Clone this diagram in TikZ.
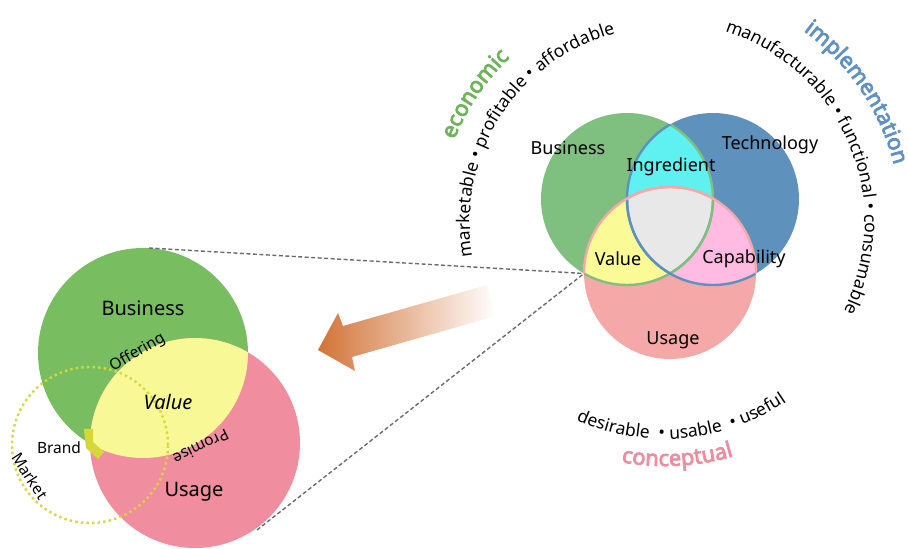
\documentclass[tikz,border=0pt]{standalone}
\usepackage{fontspec}
\setmainfont{Noto Sans}
\newfontfamily\arcbold{Noto Sans}[FakeBold=3.5]
\usetikzlibrary{decorations.text, calc}

\definecolor{bizgreen}{RGB}{127,191,127}
\definecolor{techblue}{RGB}{94,146,188}
\definecolor{usepink}{RGB}{245,168,168}
\definecolor{ingcyan}{RGB}{95,240,240}
\definecolor{valyellow}{RGB}{250,250,150}
\definecolor{cappink}{RGB}{255,187,225}
\definecolor{centergray}{RGB}{232,232,232}
\definecolor{lgreen}{RGB}{120,190,96}
\definecolor{lpink}{RGB}{240,142,160}
\definecolor{lyellow}{RGB}{248,248,150}
\definecolor{marketolive}{RGB}{215,215,55}
\definecolor{arroworange}{RGB}{210,115,55}
\definecolor{ecogreen}{RGB}{109,179,90}
\definecolor{implblue}{RGB}{95,145,195}
\definecolor{concpink}{RGB}{240,140,160}

\begin{document}
\begin{tikzpicture}[x=1pt, y=1pt,
    lbl/.style={font=\fontsize{18}{20}\selectfont, inner sep=0pt},
    biglbl/.style={font=\fontsize{20}{22}\selectfont, inner sep=0pt},
    smalllbl/.style={font=\fontsize{15.5}{17}\selectfont, inner sep=0pt},
    zoomline/.style={draw=black!58, line width=1.4pt, dash pattern=on 4pt off 2.5pt},
    marketdots/.style={draw=marketolive, line width=2.4pt, dash pattern=on 2.4pt off 3.2pt}]
    \useasboundingbox (0,0) rectangle (908,549);

    % Centres
    \coordinate (B) at (627,350);
    \coordinate (T) at (713,350);
    \coordinate (U) at (670,276);
    \coordinate (C) at (665,327);
    \coordinate (LB) at (143,196);
    \coordinate (LU) at (195,106);
    \coordinate (LM) at (90,104);

    % Right diagram
    \fill[bizgreen] (B) circle[radius=86];
    \fill[techblue] (T) circle[radius=86];
    \fill[usepink] (U) circle[radius=86];
    \begin{scope}
        \clip (T) circle[radius=86];
        \fill[cappink] (U) circle[radius=86];
    \end{scope}
    \begin{scope}
        \clip (B) circle[radius=86];
        \fill[ingcyan] (T) circle[radius=86];
        \fill[valyellow] (U) circle[radius=86];
        \clip (T) circle[radius=86];
        \fill[centergray] (U) circle[radius=86];
    \end{scope}
    \foreach \a/\b/\col in {B/T/bizgreen, B/U/bizgreen, T/B/techblue, T/U/techblue, U/B/usepink, U/T/usepink} {
        \begin{scope}
            \clip (\b) circle[radius=86];
            \draw[\col, line width=2.4pt] (\a) circle[radius=86];
        \end{scope}
    }

    % Labels
    \node[lbl] (business) at (568,401) {Business};
    \node[lbl] (technology) at (770,404) {Technology};
    \node[lbl] (ingredient) at (671,382) {Ingredient};
    \node[lbl] (value) at (618,290) {Value};
    \node[lbl] (capability) at (744,290) {Capability};
    \node[lbl] (usage) at (673,209) {Usage};

    % Text round the diagram
    \path[decorate, decoration={text along path, text align=center,
        text={|\fontsize{17.5}{19}\selectfont|marketable • profitable • affordable}}]
        (C) ++(207:195) arc[start angle=207, end angle=88, radius=195];
    \path[decorate, decoration={text along path, text align=center,
        text={|\fontsize{17.5}{19}\selectfont|manufacturable • functional • consumable}}]
        (C) ++(90:200) arc[start angle=90, end angle=-44, radius=200];
    \path[decorate, decoration={text along path, text align=center,
        text={|\fontsize{17.5}{19}\selectfont|desirable\ \ • usable\ \ • useful}}]
        (C) ++(-140:217) arc[start angle=-140, end angle=-30, radius=217];
    \path[decorate, decoration={text along path, text align=center, text color=ecogreen,
        text={|\fontsize{22}{24}\arcbold|economic}}]
        (C) ++(192:226) arc[start angle=192, end angle=100, radius=226];
    \path[decorate, decoration={text along path, text align=center, text color=implblue,
        text={|\fontsize{22}{24}\arcbold|implementation}}]
        (C) ++(82:236) arc[start angle=82, end angle=-14, radius=236];
    \path[decorate, decoration={text along path, text align=center, text color=concpink,
        text={|\fontsize{22}{24}\arcbold|conceptual}}]
        (C) ++(-132:244) arc[start angle=-132, end angle=-42, radius=244];

    % Left diagram
    \fill[lgreen] (LB) circle[radius=105];
    \fill[lpink] (LU) circle[radius=105];
    \begin{scope}
        \clip (LB) circle[radius=105];
        \fill[lyellow] (LU) circle[radius=105];
    \end{scope}
    \fill[marketolive] (84,120) -- (93,120) -- (93,107) -- (104,97) -- (98,90) -- (86,101) -- cycle;
    \draw[marketdots] (LM) circle[radius=78];

    \node[biglbl] (lbusiness) at (143,241) {Business};
    \node[smalllbl, rotate=30] (offering) at (137.5,196.5) {Offering};
    \node[biglbl, font=\fontsize{20}{22}\selectfont\itshape] (lvalue) at (168,147) {Value};
    \node[smalllbl, rotate=206] (promise) at (201,102) {Promise};
    \node[biglbl] (lusage) at (194,57) {Usage};
    \node[smalllbl] (brand) at (59,101) {Brand};
    \node[smalllbl, rotate=-57] (market) at (30,73) {Market};

    % Zoom lines
    \coordinate (valcorner) at (584,275.5);
    \coordinate (zoomtop) at (149,301);
    \coordinate (zoombot) at (257,19);
    \draw[zoomline] (zoomtop) -- (valcorner);
    \draw[zoomline] (zoombot) -- (valcorner);

    % Arrow
    \shade[left color=arroworange, right color=white]
        (318,199) -- (338,236) -- (343,223) -- (487,264) -- (496,233) -- (352,192) -- (355,178) -- cycle;
\end{tikzpicture}
\end{document}
